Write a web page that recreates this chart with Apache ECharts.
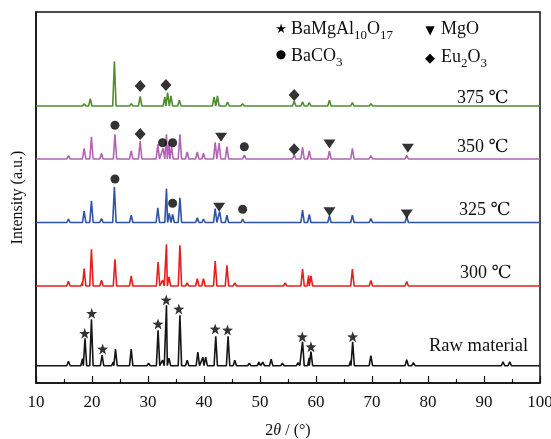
<!DOCTYPE html>
<html>
<head>
<meta charset="utf-8">
<script src="https://cdn.jsdelivr.net/npm/echarts@6/dist/echarts.min.js"></script>
<style>html,body{margin:0;padding:0;background:#fff}#c{width:551px;height:439px}</style>
</head>
<body>
<div id="c"></div>
<script>
// ---- data ----
const xTickLabels = [10, 20, 30, 40, 50, 60, 70, 80, 90, 100];
const patternNames = ['Raw material', '300 ℃', '325 ℃', '350 ℃', '375 ℃'];
const patternColors = ['#151515', '#e3201f', '#2f53a8', '#b462b4', '#4f8e2e'];
// vertical offset of each stacked pattern (a.u.)
const baselines = [17.3, 97, 160.5, 224, 277];
// peaks: [2theta, intensity above baseline]
const peaksRaw = [[15.8,4.5],[18.3,7],[18.75,27.5],[19.9,46.5],[21.8,10.5],[23.8,3.5],[24.2,16.5],[27.0,16.5],[30.1,2.5],[31.8,35.5],[32.6,5.5],[33.3,60.5],[33.75,7.5],[35.7,50.5],[37.0,5.5],[38.9,13.5],[39.8,8.5],[40.3,8.5],[42.1,29.5],[44.3,29.5],[45.5,5.5],[48.1,2.5],[49.8,3.5],[50.5,3.5],[52.0,6.5],[54.0,2.5],[56.8,3],[57.6,24],[58.8,8],[59.1,14],[64.5,1.5],[66.2,5],[66.55,24],[69.8,10],[72.5,2],[76.2,6],[77.4,3],[80,2],[82.5,1.5],[85,1.5],[88,1.5],[93.4,4],[94.6,4]];
const peaks300 = [[15.8,4.7],[18.3,4],[18.6,17.3],[19.9,36.7],[21.7,5.7],[24.1,26.7],[27.0,10],[30.1,1.5],[31.8,24],[32.6,6],[33.3,41.7],[33.75,9],[35.7,40.7],[37.0,3],[38.8,7.3],[39.9,7.3],[42.0,25],[44.1,20.7],[45.5,3],[48.0,2],[50.0,2],[52,1.5],[54.5,3],[57.6,17],[58.7,10.5],[59.1,10],[62.4,1.5],[66.5,17],[69.8,5.5],[76.2,4.5],[92.5,2],[94.5,2]];
const peaks325 = [[15.8,3.3],[18.6,11.3],[19.9,21.7],[21.7,4],[24.0,35.7],[27.0,7.3],[27.6,1.5],[31.75,14.7],[33.3,34],[33.8,9],[34.4,8],[35.7,24.7],[37.0,1.3],[38.8,4.7],[39.9,3.3],[42.0,14],[42.8,11],[44.1,7.3],[46.9,3.3],[50,1.2],[54,1.2],[57.6,12.3],[58.8,8],[62.4,6.7],[66.5,7.3],[69.8,4],[76.2,6],[78.7,2]];
const peaks350 = [[15.8,3.3],[18.6,10.7],[19.9,22.3],[21.7,5.7],[24.1,24.7],[27.0,8],[28.6,18],[31.75,14.7],[32.7,10.7],[33.3,24.7],[33.75,16],[34.2,12],[35.7,24.7],[37.0,7],[38.8,7],[39.9,5.7],[42.0,16.7],[42.7,16],[44.1,12.3],[47.2,4],[50,1.2],[53,1.2],[56.1,4.5],[57.6,11.7],[58.8,8],[62.4,8],[66.5,10.7],[69.8,3.3],[76.2,3.7],[78.7,2],[94,1.5]];
const peaks375 = [[15.8,1.3],[18.6,2.3],[19.7,7.3],[21.7,1.3],[24.0,44.7],[27.0,2.3],[28.0,1.3],[28.6,9.7],[31.8,1.3],[33.0,9],[33.5,13.3],[34.1,10],[35.6,5.7],[39.9,1.3],[41.8,9],[42.4,10],[44.2,4],[46.9,2.3],[56.1,5],[57.6,4.3],[58.8,3.3],[62.4,5.7],[66.5,3.3],[69.8,2.3],[76.2,1.5]];
// phase markers: [2theta, a.u.]
const starPts = [[18.7,49.7],[19.95,69.7],[21.9,34],[31.8,59],[33.25,83],[35.5,74],[42.0,54],[44.2,53],[57.55,46.3],[59.1,36.3],[66.55,46.3]];
const circlePts = [[24.1,204],[34.4,179.7],[46.9,173.7],[24.1,257.7],[32.6,240.3],[34.4,240.3],[47.2,236.3]];
const trianglePts = [[42.7,175.7],[62.4,171.3],[76.2,169],[43.05,245.7],[62.4,239],[76.4,234.7]];
const diamondPts = [[28.6,249],[56.1,233.7],[28.6,297],[33.2,298],[56.1,288]];

const allPeaks = [peaksRaw, peaks300, peaks325, peaks350, peaks375];
const HALF = 0.3;
function profile(base, peaks) {
  const pts = [[10, base], [100, base]];
  peaks.forEach(([p, h]) => { pts.push([p - HALF, base], [p, base + h], [p + HALF, base]); });
  pts.sort((a, b) => a[0] - b[0]);
  return pts;
}
const serif = '"Liberation Serif","Times New Roman","DejaVu Serif",serif';
const starPath = 'path://M0,-10L2.35,-3.24L9.51,-3.09L3.8,1.24L5.88,8.09L0,4L-5.88,8.09L-3.8,1.24L-9.51,-3.09L-2.35,-3.24Z';

const series = allPeaks.map((pk, i) => ({
  type: 'line', name: patternNames[i], data: profile(baselines[i], pk),
  symbol: 'none', lineStyle: { color: patternColors[i], width: 1.6 }, animation: false, z: 2
}));
series.push({ type: 'scatter', data: starPts, symbol: starPath, symbolSize: 11, itemStyle: { color: '#000' }, z: 5, animation: false });
series.push({ type: 'scatter', data: circlePts, symbol: 'circle', symbolSize: 9, itemStyle: { color: '#000' }, z: 5, animation: false });
series.push({ type: 'scatter', data: trianglePts, symbol: 'triangle', symbolRotate: 180, symbolSize: [12, 9], itemStyle: { color: '#000' }, z: 5, animation: false });
series.push({ type: 'scatter', data: diamondPts, symbol: 'diamond', symbolSize: [11, 12], itemStyle: { color: '#000' }, z: 5, animation: false });

function txt(x, y, text, size) {
  return { type: 'text', x: x, y: y, z: 10, style: { text: text, fontSize: size || 18, fontFamily: serif, fill: '#111', align: 'left', verticalAlign: 'middle' } };
}
const mctx = document.createElement('canvas').getContext('2d');
// chemical formula: parts = [[text, isSubscript], ...]
function chem(x, y, parts) {
  const els = [];
  let cx = x;
  parts.forEach(([t, sub]) => {
    const fs = sub ? 13 : 18;
    mctx.font = fs + 'px ' + serif;
    els.push(txt(cx, sub ? y + 7 : y, t, fs));
    cx += mctx.measureText(t).width;
  });
  return els;
}
const sym = (x, y, ch, size) => ({ type: 'text', x: x, y: y, z: 10, style: { text: ch, fontSize: size, fontFamily: '"DejaVu Sans",sans-serif', fill: '#000', align: 'center', verticalAlign: 'middle' } });

const chart = echarts.init(document.getElementById('c'), null, { renderer: 'canvas' });
chart.setOption({
  animation: false,
  backgroundColor: '#fff',
  grid: { left: 36, right: 11, top: 12, bottom: 56, outerBoundsMode: 'none', containLabel: false, show: true, borderColor: '#111', borderWidth: 1.5, backgroundColor: 'transparent' },
  xAxis: {
    type: 'value', min: 10, max: 100, interval: 10,
    name: '2{i|θ} / (°)', nameLocation: 'middle', nameGap: 40,
    nameTextStyle: { fontSize: 16, fontFamily: serif, color: '#111', rich: { i: { fontStyle: 'italic', fontSize: 16, fontFamily: serif, color: '#111' } } },
    axisLine: { lineStyle: { color: '#111', width: 1.5 } },
    axisTick: { inside: true, length: 7, lineStyle: { color: '#111', width: 1.2 } },
    minorTick: { show: true, splitNumber: 2, length: 4, lineStyle: { color: '#111', width: 1.2 } },
    splitLine: { show: false },
    axisLabel: { fontSize: 17, fontFamily: serif, color: '#111', margin: 11, formatter: v => xTickLabels.includes(v) ? String(v) : '' }
  },
  yAxis: {
    type: 'value', min: 0, max: 371,
    name: 'Intensity (a.u.)', nameLocation: 'middle', nameGap: 10,
    nameTextStyle: { fontSize: 16, fontFamily: serif, color: '#111' },
    axisLine: { show: true, lineStyle: { color: '#111', width: 1.5 } },
    axisTick: { show: false }, axisLabel: { show: false }, splitLine: { show: false }
  },
  series: series,
  graphic: [
    sym(281, 30, '★', 13), ...chem(291, 29, [['BaMgAl', 0], ['10', 1], ['O', 0], ['17', 1]]),
    sym(281, 55, '●', 12), ...chem(291, 56, [['BaCO', 0], ['3', 1]]),
    sym(430, 31, '▼', 12), ...chem(441, 29, [['MgO', 0]]),
    sym(430, 59, '◆', 13), ...chem(441, 57, [['Eu', 0], ['2', 1], ['O', 0], ['3', 1]]),
    txt(457, 98, '375 ℃', 18), txt(457, 147, '350 ℃', 18), txt(459, 210, '325 ℃', 18),
    txt(460, 273, '300 ℃', 18), txt(429, 346, 'Raw material', 18.5)
  ]
});
</script>
</body>
</html>
